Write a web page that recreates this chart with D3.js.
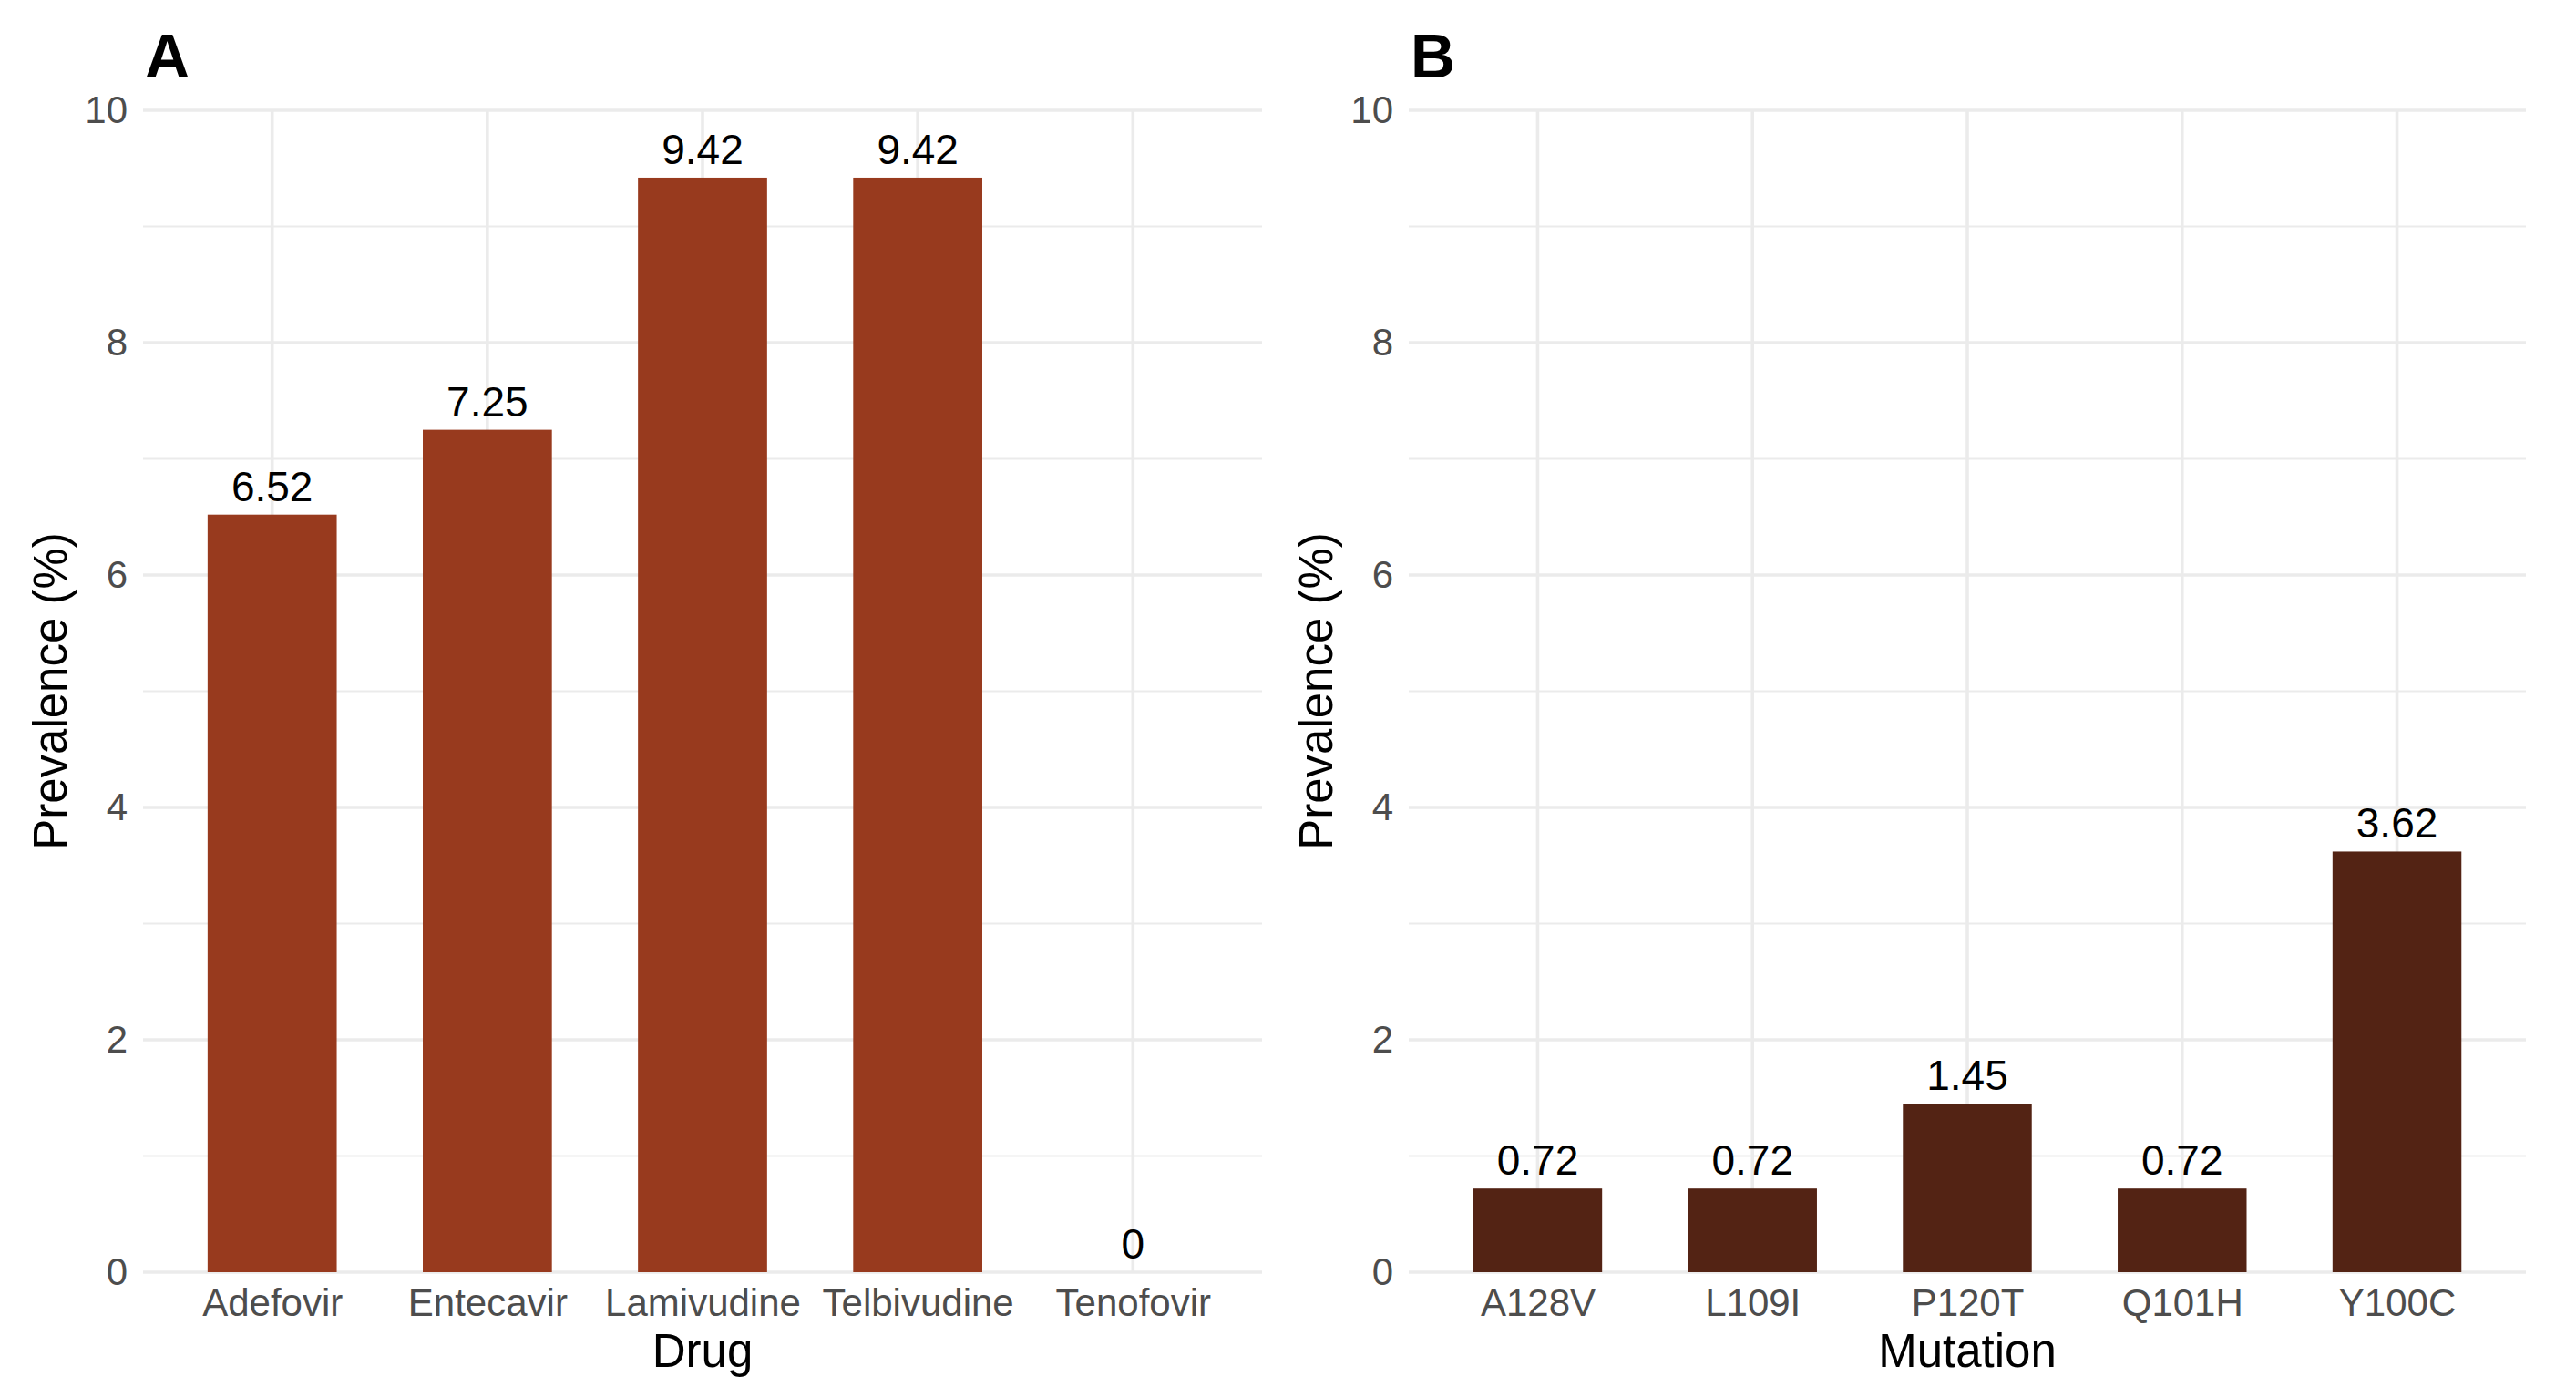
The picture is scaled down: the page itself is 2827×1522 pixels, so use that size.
<!DOCTYPE html>
<html>
<head>
<meta charset="utf-8">
<script src="https://cdn.jsdelivr.net/npm/d3@7"></script>
<style>
html,body{margin:0;padding:0;background:#fff;}
svg{display:block;font-family:"Liberation Sans",Arial,Helvetica,sans-serif;}
</style>
</head>
<body>
<script>
// ---- data ----
const drugs = ["Adefovir","Entecavir","Lamivudine","Telbivudine","Tenofovir"];
const drugValues = [6.52,7.25,9.42,9.42,0];
const drugLabels = ["6.52","7.25","9.42","9.42","0"];
const mutations = ["A128V","L109I","P120T","Q101H","Y100C"];
const mutationValues = [0.72,0.72,1.45,0.72,3.62];
const mutationLabels = ["0.72","0.72","1.45","0.72","3.62"];
const yMajorTicks = [0,2,4,6,8,10];
const yMinorTicks = [1,3,5,7,9];
const yDomain = [0,10];

const W = 2827, H = 1522;
const svg = d3.select("body").append("svg").attr("width",W).attr("height",H);

const panelTop = 121, panelBottom = 1396;

function panel(opts){
  const {left,right,cats,vals,labels,color,xTitle,tag} = opts;
  const g = svg.append("g");
  const step = (right-left)/(cats.length-1+1.2);
  const x = d3.scalePoint().domain(cats).range([left+0.6*step, right-0.6*step]);
  const y = d3.scaleLinear().domain(yDomain).range([panelBottom, panelTop]);
  const bw = 0.6*step;

  // minor grid
  g.selectAll(".minor").data(yMinorTicks).enter().append("line")
    .attr("x1",left).attr("x2",right)
    .attr("y1",d=>y(d)).attr("y2",d=>y(d))
    .attr("stroke","#EBEBEB").attr("stroke-width",1.8);
  // major grid
  g.selectAll(".major").data(yMajorTicks).enter().append("line")
    .attr("x1",left).attr("x2",right)
    .attr("y1",d=>y(d)).attr("y2",d=>y(d))
    .attr("stroke","#EBEBEB").attr("stroke-width",3.6);
  g.selectAll(".vmajor").data(cats).enter().append("line")
    .attr("x1",d=>x(d)).attr("x2",d=>x(d))
    .attr("y1",y(yDomain[0])).attr("y2",y(yDomain[1]))
    .attr("stroke","#EBEBEB").attr("stroke-width",3.6);

  // y axis labels
  const yAxis = d3.axisLeft(y).tickValues(yMajorTicks).tickSize(0).tickPadding(17).tickFormat(d3.format("d"));
  const ya = g.append("g").attr("transform",`translate(${left},0)`).call(yAxis);
  ya.select(".domain").remove();
  ya.selectAll("text").attr("fill","#4D4D4D").style("font-size","42px").style("font-family","'Liberation Sans',Arial,sans-serif");

  // x axis labels
  const xAxis = d3.axisBottom(x).tickSize(0).tickPadding(0);
  const xa = g.append("g").attr("transform",`translate(0,${panelBottom})`).call(xAxis);
  xa.select(".domain").remove();
  xa.selectAll("text").attr("fill","#4D4D4D").attr("dy",null).attr("y",48)
    .style("font-size","42px").style("font-family","'Liberation Sans',Arial,sans-serif");

  // bars
  g.selectAll(".bar").data(cats).enter().append("rect")
    .attr("x",(d)=>x(d)-bw/2).attr("width",bw)
    .attr("y",(d,i)=>y(vals[i])).attr("height",(d,i)=>y(0)-y(vals[i]))
    .attr("fill",color);

  // value labels
  g.selectAll(".vl").data(cats).enter().append("text")
    .attr("x",d=>x(d)).attr("y",(d,i)=>y(vals[i])-15)
    .attr("text-anchor","middle").attr("fill","#000")
    .style("font-size","46px")
    .text((d,i)=>labels[i]);

  // axis titles
  g.append("text").attr("x",(left+right)/2).attr("y",1500)
    .attr("text-anchor","middle").attr("fill","#000").style("font-size","51px").text(xTitle);
  g.append("text").attr("transform",`translate(${left-84},${(panelTop+panelBottom)/2}) rotate(-90)`)
    .attr("text-anchor","middle").attr("fill","#000").style("font-size","51px").text("Prevalence (%)");

  // tag
  g.append("text").attr("x",left+2).attr("y",85).attr("fill","#000")
    .style("font-size","68px").style("font-weight","bold").text(tag);
}

panel({left:157,right:1385,cats:drugs,vals:drugValues,labels:drugLabels,color:"#983A1E",xTitle:"Drug",tag:"A"});
panel({left:1546,right:2772,cats:mutations,vals:mutationValues,labels:mutationLabels,color:"#532314",xTitle:"Mutation",tag:"B"});
</script>
</body>
</html>
